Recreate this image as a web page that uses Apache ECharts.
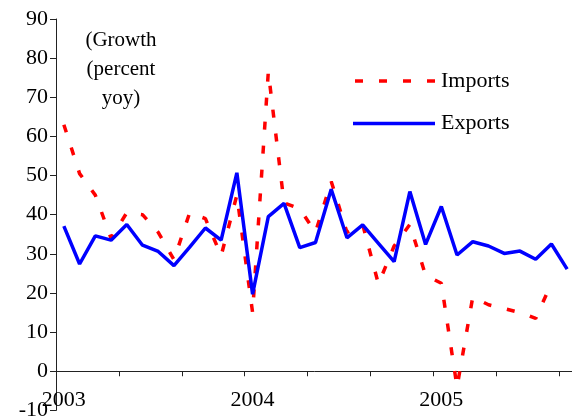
<!DOCTYPE html>
<html>
<head>
<meta charset="utf-8">
<script src="https://cdn.jsdelivr.net/npm/echarts@6/dist/echarts.min.js"></script>
<style>
html,body{margin:0;padding:0;background:#fff;}
#chart{width:572px;height:419px;}
</style>
</head>
<body>
<div id="chart"></div>
<script>
// Months Jan 2003 .. Sep 2005
const categories = [
  '2003-01','2003-02','2003-03','2003-04','2003-05','2003-06','2003-07','2003-08','2003-09','2003-10','2003-11','2003-12',
  '2004-01','2004-02','2004-03','2004-04','2004-05','2004-06','2004-07','2004-08','2004-09','2004-10','2004-11','2004-12',
  '2005-01','2005-02','2005-03','2005-04','2005-05','2005-06','2005-07','2005-08','2005-09'
];
const yearLabels = ['2003', '2004', '2005'];
const imports = [
  63, 50.5, 45, 34, 40.5, 40, 35.5, 28.5, 40.5, 39, 29.5, 45,
  15, 76.5, 43, 41.5, 35.5, 48.5, 35.5, 37.5, 22.3, 32, 37.5, 24.5,
  22.5, -4, 19, 17, 16, 15, 13.5, 22.5, null
];
const exports = [
  37.1, 27.4, 34.6, 33.5, 37.5, 32.2, 30.6, 27.0, 31.7, 36.6, 33.5, 50.7,
  19.7, 39.5, 42.9, 31.6, 32.9, 46.5, 34.1, 37.4, 32.7, 28.0, 45.9, 32.4,
  42.1, 29.7, 33.1, 32.0, 30.1, 30.7, 28.6, 32.5, 26.1
];
const seriesNames = ['Imports', 'Exports'];
const noteLines = ['(Growth', '(percent', 'yoy)'];

const FONT = '"Liberation Serif", "Times New Roman", serif';
const chart = echarts.init(document.getElementById('chart'), null, {renderer: 'canvas'});

const graphics = [];
const noteY = [40, 69.5, 98.5];
noteLines.forEach((t, i) => {
  graphics.push({type: 'text', x: 121, y: noteY[i], style: {text: t, font: '21px ' + FONT, fill: '#000', align: 'center', verticalAlign: 'middle'}});
});
graphics.push({type: 'line', shape: {x1: 355, y1: 81, x2: 435, y2: 81}, style: {stroke: '#FF0000', lineWidth: 3.5, lineDash: [8, 16]}});
graphics.push({type: 'text', x: 441, y: 81, style: {text: seriesNames[0], font: '22px ' + FONT, fill: '#000', align: 'left', verticalAlign: 'middle'}});
graphics.push({type: 'line', shape: {x1: 353, y1: 123.5, x2: 435, y2: 123.5}, style: {stroke: '#0000FF', lineWidth: 3.5}});
graphics.push({type: 'text', x: 441, y: 123, style: {text: seriesNames[1], font: '22px ' + FONT, fill: '#000', align: 'left', verticalAlign: 'middle'}});

chart.setOption({
  animation: false,
  backgroundColor: '#fff',
  grid: {left: 56, top: 19, right: -3, bottom: 8.6, containLabel: false, outerBoundsMode: 'none'},
  xAxis: [{
    type: 'category',
    data: categories,
    boundaryGap: true,
    axisLine: {onZero: true, lineStyle: {color: '#222', width: 1}},
    axisTick: {show: true, interval: 3, length: 5, inside: false, lineStyle: {color: '#222'}},
    axisLabel: {show: false},
    splitLine: {show: false}
  }, {
    type: 'category',
    data: categories,
    boundaryGap: true,
    position: 'bottom',
    axisLine: {show: false, onZero: false},
    axisTick: {show: false},
    axisLabel: {
      show: true,
      interval: 0,
      margin: -21,
      fontFamily: FONT,
      fontSize: 22,
      color: '#000',
      formatter: function (v, idx) {
        return idx % 12 === 0 ? yearLabels[idx / 12] : '';
      }
    },
    splitLine: {show: false}
  }],
  yAxis: {
    type: 'value',
    min: -10,
    max: 90,
    interval: 10,
    axisLine: {show: true, lineStyle: {color: '#222', width: 1}},
    axisTick: {show: true, length: 6, lineStyle: {color: '#222'}},
    axisLabel: {margin: 8, fontFamily: FONT, fontSize: 22, color: '#000'},
    splitLine: {show: false}
  },
  graphic: graphics,
  series: [
    {
      name: seriesNames[0],
      type: 'line',
      data: imports,
      symbol: 'none',
      connectNulls: false,
      lineStyle: {color: '#FF0000', width: 3.5, type: [8, 16], cap: 'butt'},
      itemStyle: {color: '#FF0000'},
      z: 2
    },
    {
      name: seriesNames[1],
      type: 'line',
      data: exports,
      symbol: 'none',
      lineStyle: {color: '#0000FF', width: 3.5, type: 'solid'},
      itemStyle: {color: '#0000FF'},
      z: 3
    }
  ]
});
</script>
</body>
</html>
